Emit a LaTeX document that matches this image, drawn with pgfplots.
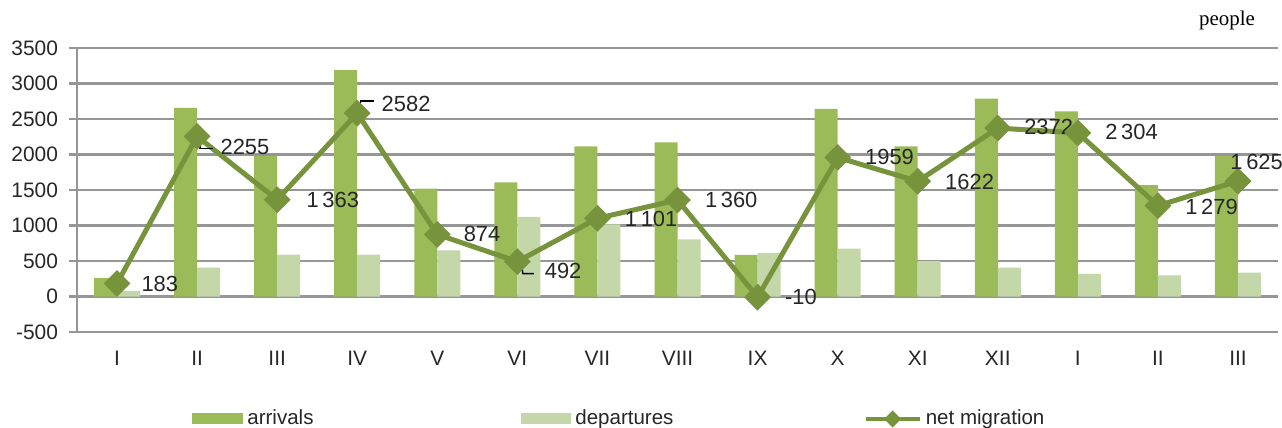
\documentclass[border=0pt]{standalone}
\usepackage{pgfplots}
\pgfplotsset{compat=1.18}
\usepackage{pgfplotstable}
\usepackage{fontspec}
\setmainfont{Liberation Sans}
\newfontfamily\peoplefont{Liberation Serif}

\definecolor{arr}{RGB}{155,187,89}
\definecolor{dep}{RGB}{196,215,168}
\definecolor{net}{RGB}{119,147,60}
\definecolor{gridc}{RGB}{150,150,150}

% arrivals / departures per month
\pgfplotstableread{
x arr dep
0 260 80
1 2658 407
2 1977 591
3 3188 591
4 1518 648
5 1608 1121
6 2114 1017
7 2171 804
8 587 610
9 2644 676
10 2114 497
11 2786 407
12 2606 317
13 1570 298
14 1977 336
}\flows

% net migration, label text and label offsets (bp)
\pgfplotstableread{
x net lab dx dy
0 183 183 11 0
1 2255 2255 10.5 -5.5
2 1363 {1\,363} 13.5 0
3 2582 2582 11 4.5
4 874 874 12 0
5 492 492 12.5 -4.5
6 1101 {1\,101} 12.5 -0.5
7 1360 {1\,360} 12.5 0
8 -10 -10 12.5 0
9 1959 1959 12.5 0
10 1622 1622 12.5 -0.5
11 2372 2372 12 0.5
12 2304 {2\,304} 12.5 0.5
13 1279 {1\,279} 12.5 -0.5
14 1625 {1\,625} -5 9.5
}\netmig

\begin{document}
\begin{tikzpicture}
\begin{axis}[
    at={(0,0)}, anchor=south west,
    scale only axis,
    width=600.5bp, height=142bp,
    xmin=-0.5, xmax=14.5,
    ymin=-500, ymax=3500,
    ytick={-500,0,...,3500},
    xtick={0,...,14},
    xticklabels={I,II,III,IV,V,VI,VII,VIII,IX,X,XI,XII,I,II,III},
    /pgf/number format/assume math mode=true,
    /pgf/number format/1000 sep={},
    ticklabel style={font=\fontsize{10.5}{12}\selectfont, text=black!85},
    xticklabel style={yshift=-2bp},
    yticklabel style={xshift=-2bp},
    axis lines*=left,
    axis line style={gridc, line width=1.2bp, -},
    ymajorgrids,
    grid style={gridc, line width=1.2bp},
    tick align=outside,
    major tick length=4bp,
    x tick style={draw=none},
    y tick style={gridc, line width=1.2bp},
    clip=false,
    legend columns=3,
    legend style={at={(57.5/600.5,-43.5/142)}, anchor=west, draw=none,
        inner sep=0pt, font=\fontsize{10.3}{12}\selectfont,
        nodes={inner sep=0pt, text=black!85},
        /tikz/every odd column/.append style={column sep=2bp}},
]
\addplot[ybar, bar width=11.5bp, bar shift=-5.75bp, fill=arr, draw=none,
    legend image code/.code={\fill[arr] (0bp,-2.75bp) rectangle (25.5bp,2.75bp);}]
    table[x=x, y=arr]{\flows};
\addlegendentry{\makebox[137bp][l]{arrivals}}
\addplot[ybar, bar width=11.5bp, bar shift=5.75bp, fill=dep, draw=none,
    legend image code/.code={\fill[dep] (0bp,-2.75bp) rectangle (25bp,2.75bp);}]
    table[x=x, y=dep]{\flows};
\addlegendentry{\makebox[144bp][l]{departures}}
\addplot[net, line width=2.5bp, mark=square*, mark size=3.5bp,
    mark options={rotate=45, fill=net, draw=none},
    nodes near coords, point meta=explicit symbolic,
    visualization depends on={\thisrow{dx} \as \dx},
    visualization depends on={\thisrow{dy} \as \dy},
    nodes near coords style={anchor=west, xshift=\dx bp, yshift=\dy bp,
        font=\fontsize{11}{13}\selectfont, text=black!85, inner sep=0pt},
    legend image code/.code={
        \draw[net, line width=2.2bp] (0bp,0bp) -- (27bp,0bp);
        \fill[net] (13.5bp,2.5bp) -- (16bp,0bp) -- (13.5bp,-2.5bp) -- (11bp,0bp) -- cycle;}]
    table[x=x, y=net, meta=lab]{\netmig};
\addlegendentry{net migration}
% leader lines of the moved labels
\draw[black, line width=0.7bp] ([xshift=1.5bp,yshift=-2bp]axis cs:1,2255) -- ++(0bp,-4bp) -- ++(6.5bp,0bp);
\draw[black, line width=0.7bp] ([xshift=1.5bp,yshift=2bp]axis cs:3,2582) -- ++(0bp,4bp) -- ++(7bp,0bp);
\draw[black, line width=0.7bp] ([xshift=2bp,yshift=-2bp]axis cs:5,492) -- ++(0.8bp,-4bp) -- ++(5.5bp,0bp);
\node[anchor=base east, font=\peoplefont\fontsize{10.5}{12}\selectfont]
    at (axis description cs:0.9867,1.08) {people};
\end{axis}
\pgfresetboundingbox
\useasboundingbox (-38.5bp,-48bp) rectangle (602.5bp,166bp);
\end{tikzpicture}
\end{document}
